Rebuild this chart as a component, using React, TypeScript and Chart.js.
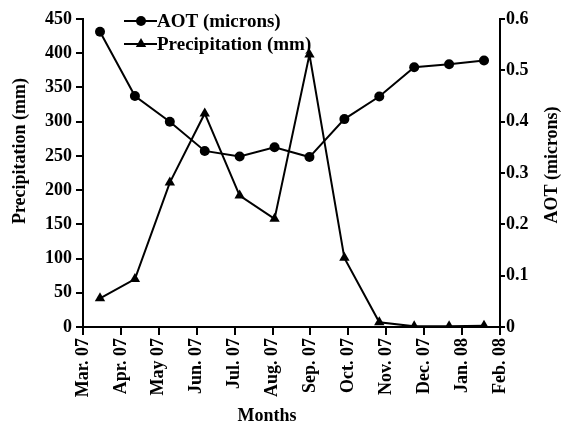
import React, { useEffect, useRef } from "react";
import { Chart, registerables } from "chart.js";

Chart.register(...registerables);

const months = ["Mar. 07", "Apr. 07", "May 07", "Jun. 07", "Jul. 07", "Aug. 07", "Sep. 07", "Oct. 07", "Nov. 07", "Dec. 07", "Jan. 08", "Feb. 08"];
const aot = [0.575, 0.45, 0.4, 0.343, 0.332, 0.35, 0.331, 0.405, 0.449, 0.506, 0.512, 0.519];
const precipitation = [42, 70, 211, 312, 192, 158, 398, 101, 7, 1, 1, 2];
const precipTicks = { min: 0, max: 450, step: 50 };
const aotTicks = { min: 0, max: 0.6, step: 0.1 };
const aotLabel = "AOT (microns)";
const precipLabel = "Precipitation (mm)";
const xTitle = "Months";

const FONT = "'Liberation Serif', 'Times New Roman', serif";

const drawTriangle = (ctx: CanvasRenderingContext2D, x: number, y: number, r: number) => {
  ctx.beginPath();
  for (let k = 0; k < 3; k++) {
    const a = (k * 2 * Math.PI) / 3;
    const px = x + Math.sin(a) * r;
    const py = y - Math.cos(a) * r;
    if (k === 0) ctx.moveTo(px, py);
    else ctx.lineTo(px, py);
  }
  ctx.closePath();
  ctx.fill();
};

const decorPlugin = {
  id: "decor",
  afterDraw(chart: any) {
    const ctx: CanvasRenderingContext2D = chart.ctx;
    ctx.save();
    ctx.fillStyle = "#000";
    ctx.strokeStyle = "#000";
    // axis titles
    ctx.font = `bold 18px ${FONT}`;
    ctx.textAlign = "center";
    ctx.textBaseline = "middle";
    ctx.save();
    ctx.translate(20, 151);
    ctx.rotate(-Math.PI / 2);
    ctx.fillText(precipLabel, 0, 0);
    ctx.restore();
    ctx.save();
    ctx.translate(552, 165);
    ctx.rotate(-Math.PI / 2);
    ctx.fillText(aotLabel, 0, 0);
    ctx.restore();
    ctx.textBaseline = "alphabetic";
    ctx.fillText(xTitle, 267, 421);
    // legend
    ctx.font = `bold 19px ${FONT}`;
    ctx.textAlign = "left";
    ctx.textBaseline = "middle";
    const rows = [
      { label: aotLabel, y: 21, marker: "circle" },
      { label: precipLabel, y: 44, marker: "triangle" },
    ];
    rows.forEach((r) => {
      ctx.lineWidth = 2;
      ctx.beginPath();
      ctx.moveTo(124, r.y);
      ctx.lineTo(157, r.y);
      ctx.stroke();
      if (r.marker === "circle") {
        ctx.beginPath();
        ctx.arc(141, r.y, 5, 0, Math.PI * 2);
        ctx.fill();
      } else {
        drawTriangle(ctx, 141, r.y, 6);
      }
      ctx.fillText(r.label, 157, r.y + 1);
    });
    ctx.restore();
  },
};

export default function App() {
  const ref = useRef<HTMLCanvasElement | null>(null);
  useEffect(() => {
    if (!ref.current) return;
    const tickFont = { family: FONT, size: 18, weight: "bold" as const };
    const chart = new Chart(ref.current, {
      type: "line",
      data: {
        labels: months,
        datasets: [
          {
            label: aotLabel,
            data: aot.map((v, i) => ({ x: i, y: v })),
            xAxisID: "x2",
            yAxisID: "y2",
            borderColor: "#000",
            backgroundColor: "#000",
            borderWidth: 2,
            pointStyle: "circle",
            pointRadius: 5,
            pointBorderWidth: 0,
            tension: 0,
          },
          {
            label: precipLabel,
            data: precipitation.map((v, i) => ({ x: i, y: v })),
            xAxisID: "x2",
            yAxisID: "y",
            borderColor: "#000",
            backgroundColor: "#000",
            borderWidth: 2,
            pointStyle: "triangle",
            pointRadius: 6,
            pointBorderWidth: 0,
            tension: 0,
          },
        ],
      },
      options: {
        animation: false,
        responsive: true,
        maintainAspectRatio: false,
        layout: { padding: { top: 19, left: 0, right: 0, bottom: 0 } },
        plugins: { legend: { display: false }, tooltip: { enabled: false } },
        scales: {
          x: {
            type: "category",
            position: "bottom",
            offset: false,
            grid: { display: true, drawOnChartArea: false, drawTicks: true, tickLength: 8, color: "#000", lineWidth: 2 },
            border: { display: true, color: "#000", width: 2 },
            ticks: { color: "#000", font: tickFont, minRotation: 90, maxRotation: 90, padding: 3, autoSkip: false },
            afterFit: (s: any) => { s.height = 96; },
          },
          x2: {
            type: "linear",
            display: false,
            min: -0.487,
            max: 11.458,
          },
          y: {
            type: "linear",
            position: "left",
            min: precipTicks.min,
            max: precipTicks.max,
            grid: { display: true, drawOnChartArea: false, drawTicks: true, tickLength: 7, color: "#000", lineWidth: 2 },
            border: { display: true, color: "#000", width: 2 },
            ticks: { stepSize: precipTicks.step, color: "#000", font: tickFont, padding: 4 },
            afterFit: (s: any) => { s.width = 83; },
          },
          y2: {
            type: "linear",
            position: "right",
            min: aotTicks.min,
            max: aotTicks.max,
            grid: { display: true, drawOnChartArea: false, drawTicks: true, tickLength: 5, color: "#000", lineWidth: 2 },
            border: { display: true, color: "#000", width: 2 },
            ticks: {
              stepSize: aotTicks.step,
              color: "#000",
              font: tickFont,
              padding: 1,
              callback: (v: any) => (Number(v) === 0 ? "0" : Number(v).toFixed(1)),
            },
            afterFit: (s: any) => { s.width = 62; },
          },
        },
      },
      plugins: [decorPlugin],
    });
    return () => chart.destroy();
  }, []);
  return (
    <div style={{ position: "absolute", left: 0, top: 0, width: 562, height: 423, background: "#fff" }}>
      <canvas ref={ref} />
    </div>
  );
}
